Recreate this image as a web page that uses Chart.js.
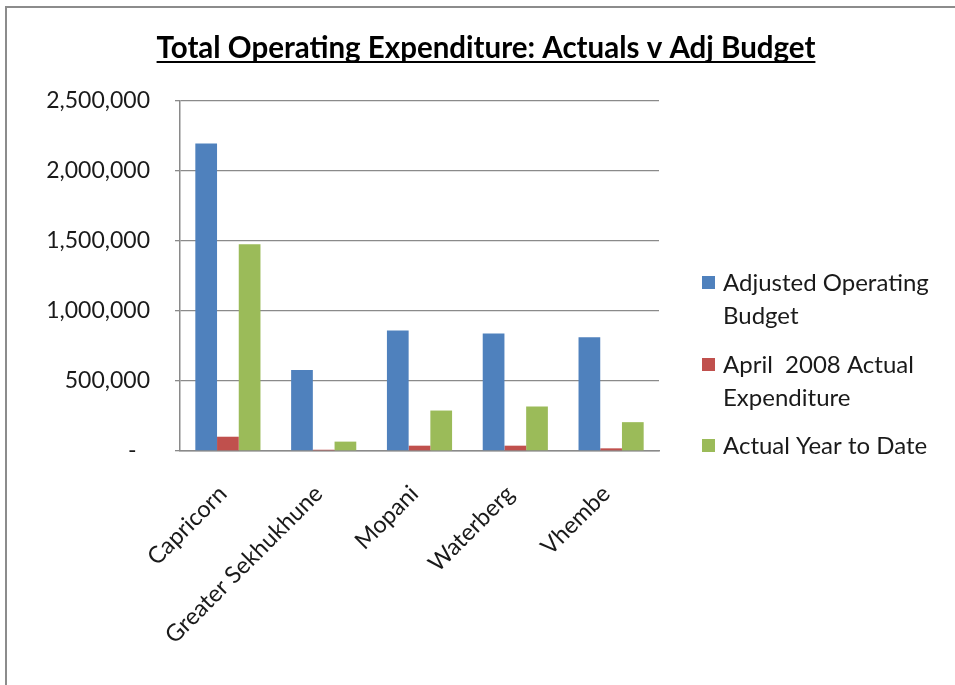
<!DOCTYPE html>
<html>
<head>
<meta charset="utf-8">
<title>Total Operating Expenditure: Actuals v Adj Budget</title>
<script src="https://cdn.jsdelivr.net/npm/chart.js@4.4.1/dist/chart.umd.min.js"></script>
<style>
  html, body { margin: 0; padding: 0; background: #ffffff; }
  #wrap { position: relative; width: 955px; height: 685px; overflow: hidden; }
  #frame { position: absolute; left: 5px; top: 6px; width: 960px; height: 690px;
           border-left: 2px solid #8c8c8c; border-top: 2px solid #8c8c8c; pointer-events: none; }
  canvas { position: absolute; left: 0; top: 0; }
</style>
</head>
<body>
<div id="wrap">
  <canvas id="chart" width="955" height="685"></canvas>
  <div id="frame"></div>
</div>
<script>
// Districts and expenditure figures (Rand thousands)
const districts = ['Capricorn', 'Greater Sekhukhune', 'Mopani', 'Waterberg', 'Vhembe'];
const adjustedBudget = [2197000, 578000, 860000, 840000, 812000];
const aprilActual = [102000, 9000, 38000, 38000, 19000];
const yearToDate = [1476000, 67000, 289000, 317000, 206000];
const seriesNames = [['Adjusted Operating', 'Budget'], ['April  2008 Actual', 'Expenditure'], ['Actual Year to Date']];
const yTicks = [0, 500000, 1000000, 1500000, 2000000, 2500000];
const chartTitle = 'Total Operating Expenditure: Actuals v Adj Budget';

const FONT = 'Lato, "Open Sans", sans-serif';
const TEXT = '#1a1a1a';
const GRID = '#8a8a8a';

// Underlined title drawn above the plot
const titlePlugin = {
  id: 'underlinedTitle',
  afterDraw(chart) {
    const ctx = chart.ctx;
    ctx.save();
    ctx.font = 'bold 29.5px ' + FONT;
    ctx.fillStyle = '#000';
    ctx.textAlign = 'center';
    ctx.textBaseline = 'alphabetic';
    const cx = 486, base = 58;
    ctx.fillText(chartTitle, cx, base);
    const w = ctx.measureText(chartTitle).width;
    ctx.fillRect(cx - w / 2, base + 3, w, 2);
    ctx.restore();
  }
};

// Legend on the right with wrapped labels
const legendPlugin = {
  id: 'wrappedLegend',
  afterDraw(chart) {
    const ctx = chart.ctx;
    const x0 = chart.chartArea.right + 43;
    const firstBaselines = [291, 373, 454];
    const lineH = 32.5;
    ctx.save();
    ctx.font = '24px ' + FONT;
    ctx.fillStyle = TEXT;
    ctx.textBaseline = 'alphabetic';
    chart.data.datasets.forEach((ds, i) => {
      const b = firstBaselines[i];
      ctx.fillStyle = ds.backgroundColor;
      ctx.fillRect(x0, b - 15, 13, 13);
      ctx.fillStyle = TEXT;
      ds.label.forEach((line, j) => ctx.fillText(line, x0 + 21, b + j * lineH));
    });
    ctx.restore();
  }
};

new Chart(document.getElementById('chart'), {
  type: 'bar',
  data: {
    labels: districts,
    datasets: [
      { label: seriesNames[0], data: adjustedBudget, backgroundColor: '#4f81bd' },
      { label: seriesNames[1], data: aprilActual, backgroundColor: '#c0504d' },
      { label: seriesNames[2], data: yearToDate, backgroundColor: '#9bbb59' }
    ]
  },
  options: {
    responsive: false,
    animation: false,
    devicePixelRatio: 1,
    layout: { padding: { top: 101, right: 296, bottom: 0, left: 0 } },
    datasets: { bar: { barPercentage: 1, categoryPercentage: 0.68 } },
    plugins: {
      legend: { display: false },
      title: { display: false },
      tooltip: { enabled: false }
    },
    scales: {
      x: {
        grid: { display: false },
        border: { display: true, color: GRID, width: 1.5 },
        ticks: {
          color: TEXT,
          font: { family: FONT, size: 23.5 },
          minRotation: 45,
          maxRotation: 45,
          autoSkip: false,
          padding: 21,
          labelOffset: -5
        },
        afterFit(scale) { scale.height = 234; }
      },
      y: {
        min: 0,
        max: 2500000,
        afterBuildTicks(scale) { scale.ticks = yTicks.map(v => ({ value: v })); },
        grid: { color: GRID, lineWidth: 1.3, tickLength: 5, drawTicks: true },
        border: { display: true, color: GRID, width: 1.5 },
        ticks: {
          color: TEXT,
          font: { family: FONT, size: 23 },
          padding: 25,
          callback: v => v === 0 ? '-\u2007' : v.toLocaleString('en-US')
        },
        afterFit(scale) { scale.width = 180; }
      }
    }
  },
  plugins: [titlePlugin, legendPlugin]
});
</script>
</body>
</html>
